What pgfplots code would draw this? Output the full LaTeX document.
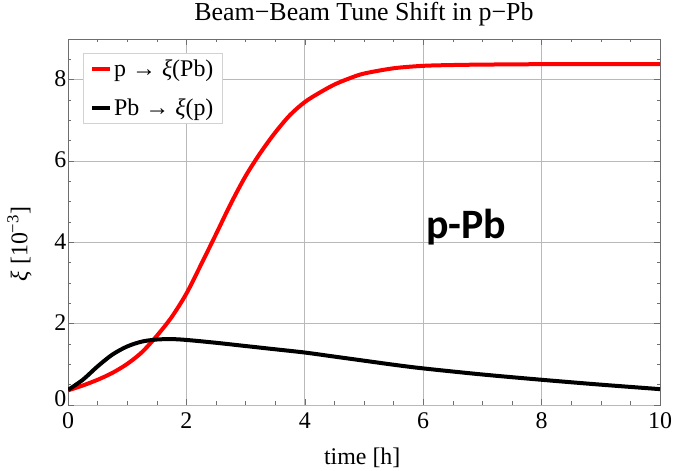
\documentclass[border=0pt]{standalone}
\usepackage{fontspec}
\setmainfont{Liberation Serif}
\newfontfamily\calibri{Carlito}
\usepackage{pgfplots}
\pgfplotsset{compat=1.18}
\definecolor{gridgray}{RGB}{185,185,185}
\definecolor{framegray}{RGB}{110,110,110}
\definecolor{mred}{RGB}{255,0,0}

\begin{document}
\begin{tikzpicture}[x=1bp,y=1bp]
\path[use as bounding box] (-68,-66) rectangle (611,405);
\begin{axis}[
  at={(0,0)}, anchor=south west,
  scale only axis,
  width=592bp, height=366bp,
  xmin=0, xmax=10, ymin=0, ymax=9,
  xtick={0,2,...,10}, ytick={2,4,...,8},
  extra y ticks={0},
  extra y tick style={yticklabel style={yshift=5bp}},
  minor x tick num=3,
  minor ytick={0.5,1,...,9},
  grid=major,
  major grid style={gridgray, line width=0.8pt},
  tick align=inside,
  major tick length=6bp, minor tick length=3.5bp,
  tick style={framegray, line width=0.6pt},
  axis line style={framegray, line width=0.8pt},
  xticklabel pos=lower, yticklabel pos=left,
  ticklabel style={font=\fontsize{24}{28}\selectfont, inner sep=1.5bp},
  xticklabel style={yshift=-6bp},
  yticklabel style={yshift=1bp},
  /pgf/number format/assume math mode=true,
  title={Beam−Beam Tune Shift in p−Pb},
  title style={font=\fontsize{26}{30}\selectfont,
    at={(axis description cs:0.5,1.033)}, anchor=base},
  xlabel={time [h]},
  ylabel={\textit{ξ} [10\textsuperscript{−3}]},
  label style={font=\fontsize{24}{28}\selectfont},
  xlabel style={at={(axis description cs:0.497,-0.145)}, anchor=center},
  ylabel style={at={(axis description cs:-0.082,0.44)}, anchor=center},
  legend cell align=left,
  legend style={at={(axis description cs:0.025,0.962)}, anchor=north west,
    draw=gray!35, line width=0.8pt, font=\fontsize{24}{28}\selectfont,
    row sep=16bp, inner xsep=7bp, inner ysep=5bp},
  legend image code/.code={\draw[#1] (0bp,0bp) -- (18bp,0bp);},
]
\addplot[mred, line width=4bp, smooth, tension=0.5] coordinates {
  (0,0.36) (0.25,0.48) (0.5,0.62) (0.75,0.79) (1.0,1.01) (1.25,1.30)
  (1.5,1.70) (1.75,2.16) (2.0,2.74) (2.25,3.46) (2.5,4.20) (2.75,4.95)
  (3.0,5.63) (3.25,6.20) (3.5,6.70) (3.75,7.13) (4.0,7.45) (4.25,7.68)
  (4.5,7.88) (4.75,8.03) (5.0,8.15) (5.5,8.28) (6.0,8.34) (6.5,8.36)
  (7.0,8.37) (8.0,8.38) (10.0,8.38)
};
\addlegendentry{p → \textit{ξ}(Pb)}
\addplot[black, line width=4bp, smooth, tension=0.5] coordinates {
  (0,0.37) (0.25,0.62) (0.5,0.95) (0.75,1.24) (1.0,1.44) (1.25,1.56)
  (1.5,1.61) (1.75,1.62) (2.0,1.60) (2.5,1.53) (3.0,1.45) (3.5,1.37)
  (4.0,1.29) (4.5,1.19) (5.0,1.09) (5.5,0.99) (6.0,0.90) (7.0,0.75)
  (8.0,0.62) (9.0,0.50) (10.0,0.39)
};
\addlegendentry{Pb → \textit{ξ}(p)}
\node[font=\calibri\bfseries\fontsize{42}{50}\selectfont] at (axis cs:6.73,4.37) {p-Pb};
\end{axis}
\end{tikzpicture}
\end{document}
